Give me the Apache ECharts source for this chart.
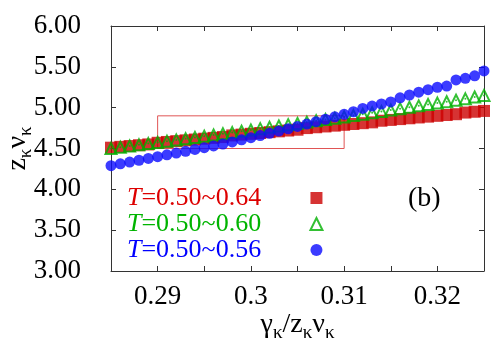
<!DOCTYPE html>
<html>
<head>
<meta charset="utf-8">
<script src="https://cdn.jsdelivr.net/npm/echarts@6/dist/echarts.min.js"></script>
<style>html,body{margin:0;padding:0;background:#fff}#chart{width:500px;height:350px}</style>
</head>
<body>
<div id="chart"></div>
<script>
(function () {
var serif = 'Liberation Serif';

// x = gamma/(z nu), 0.001 step
var xVals = [0.285, 0.286, 0.287, 0.288, 0.289, 0.290, 0.291, 0.292, 0.293, 0.294,
  0.295, 0.296, 0.297, 0.298, 0.299, 0.300, 0.301, 0.302, 0.303, 0.304,
  0.305, 0.306, 0.307, 0.308, 0.309, 0.310, 0.311, 0.312, 0.313, 0.314,
  0.315, 0.316, 0.317, 0.318, 0.319, 0.320, 0.321, 0.322, 0.323, 0.324, 0.325];
// T=0.50~0.64
var redVals = [4.51, 4.52, 4.53, 4.54, 4.55, 4.57, 4.58, 4.59, 4.60, 4.61,
  4.62, 4.63, 4.64, 4.66, 4.67, 4.68, 4.69, 4.70, 4.71, 4.72,
  4.73, 4.75, 4.76, 4.77, 4.78, 4.79, 4.80, 4.81, 4.82, 4.84,
  4.85, 4.86, 4.87, 4.88, 4.89, 4.90, 4.91, 4.92, 4.94, 4.95, 4.96];
// T=0.50~0.60
var greenVals = [4.50, 4.515, 4.53, 4.545, 4.56, 4.575, 4.59, 4.605, 4.62, 4.635,
  4.65, 4.665, 4.68, 4.695, 4.711, 4.727, 4.743, 4.759, 4.775, 4.791,
  4.807, 4.823, 4.839, 4.855, 4.871, 4.887, 4.903, 4.92, 4.937, 4.954,
  4.971, 4.988, 5.005, 5.022, 5.039, 5.056, 5.073, 5.09, 5.108, 5.13, 5.15];
// T=0.50~0.56
var blueVals = [4.29, 4.312, 4.334, 4.356, 4.378, 4.40, 4.422, 4.444, 4.466, 4.488,
  4.51, 4.532, 4.555, 4.58, 4.606, 4.632, 4.659, 4.686, 4.714, 4.742,
  4.77, 4.799, 4.828, 4.858, 4.888, 4.918, 4.95, 4.99, 5.02, 5.045,
  5.07, 5.12, 5.155, 5.19, 5.22, 5.25, 5.265, 5.34, 5.36, 5.39, 5.45];

var seriesNames = ['T=0.50~0.64', 'T=0.50~0.60', 'T=0.50~0.56'];
var colors = ['#cc0000', '#00b000', '#0a0aff'];
var textColors = ['#dd0000', '#00b400', '#0000ff'];
// x0, x1, y0, y1 of the red frame
var insetBox = [0.29, 0.31, 4.5, 4.9];

function pairs(ys) {
  return xVals.map(function (x, i) { return [x, ys[i]]; });
}

var myChart = echarts.init(document.getElementById('chart'));

var axisLine = { show: true, lineStyle: { color: '#333', width: 1 } };
var tick = { show: true, inside: true, length: 5, lineStyle: { color: '#333' } };
var subRich = {
  m: { fontFamily: serif, fontSize: 28, color: '#000' },
  s: { fontFamily: serif, fontSize: 19, color: '#000', verticalAlign: 'bottom', padding: [17, 0, 0, 0] }
};

option = {
  animation: false,
  grid: { left: 111, right: 16, top: 26, bottom: 79, outerBoundsMode: 'none', containLabel: false },
  legend: {
    left: 122,
    top: 180,
    orient: 'vertical',
    align: 'right',
    itemGap: 0,
    itemWidth: 12,
    itemHeight: 12,
    selectedMode: false,
    data: seriesNames.map(function (n, i) {
      return { name: n, textStyle: { color: textColors[i] } };
    }),
    formatter: function (name) {
      return '{t|T}{r|' + name.slice(1) + '}';
    },
    textStyle: {
      fontFamily: serif,
      fontSize: 26,
      lineHeight: 26,
      rich: {
        t: { fontFamily: serif, fontSize: 26, fontStyle: 'italic', lineHeight: 26, align: 'left' },
        r: { fontFamily: serif, fontSize: 26, width: 164, lineHeight: 26, align: 'left' }
      }
    }
  },
  graphic: [{
    type: 'text', left: 408, top: 185,
    style: { text: '(b)', fontFamily: serif, fontSize: 28, fill: '#000' }
  }],
  xAxis: [{
    type: 'value',
    min: 0.285, max: 0.325, interval: 0.005,
    axisLine: axisLine, axisTick: tick, splitLine: { show: false },
    axisLabel: {
      margin: 12, color: '#000', fontFamily: serif, fontSize: 27,
      formatter: function (v) {
        return Math.round(v * 1000) % 10 === 0 ? String(+v.toFixed(3)) : '';
      }
    },
    name: '{m|γ}{s|κ}{m|/z}{s|κ}{m|ν}{s|κ}',
    nameLocation: 'middle',
    nameMoveOverlap: false,
    nameGap: 36,
    nameTextStyle: { rich: subRich }
  }, {
    type: 'value', position: 'top',
    min: 0.285, max: 0.325, interval: 0.005,
    axisLine: axisLine, axisTick: tick, axisLabel: { show: false }, splitLine: { show: false }
  }],
  yAxis: [{
    type: 'value',
    min: 3, max: 6, interval: 0.5,
    axisLine: axisLine, axisTick: tick, splitLine: { show: false },
    axisLabel: {
      margin: 30, color: '#000', fontFamily: serif, fontSize: 27,
      formatter: function (v) { return v.toFixed(2); }
    },
    name: '{m|z}{s|κ}{m|ν}{s|κ}',
    nameLocation: 'middle',
    nameRotate: 90,
    nameMoveOverlap: false,
    nameGap: 75,
    nameTextStyle: { rich: subRich }
  }, {
    type: 'value', position: 'right',
    min: 3, max: 6, interval: 0.5,
    axisLine: axisLine, axisTick: tick, axisLabel: { show: false }, splitLine: { show: false }
  }],
  series: [{
    name: seriesNames[0],
    type: 'scatter',
    clip: false,
    symbol: 'rect',
    symbolSize: 12,
    itemStyle: { color: colors[0] },
    data: pairs(redVals),
    markArea: {
      silent: true,
      itemStyle: { color: 'rgba(0,0,0,0)', borderColor: '#e05555', borderWidth: 1 },
      data: [[{ coord: [insetBox[0], insetBox[3]] }, { coord: [insetBox[1], insetBox[2]] }]]
    }
  }, {
    name: seriesNames[1],
    type: 'scatter',
    clip: false,
    symbol: 'triangle',
    symbolSize: 11,
    itemStyle: { color: 'rgba(0,0,0,0)', borderColor: colors[1], borderWidth: 2 },
    data: pairs(greenVals)
  }, {
    name: 'dots',
    type: 'scatter',
    clip: false,
    symbol: 'circle',
    symbolSize: 2,
    itemStyle: { color: colors[1] },
    data: pairs(greenVals)
  }, {
    name: seriesNames[2],
    type: 'scatter',
    clip: false,
    symbol: 'circle',
    symbolSize: 11,
    itemStyle: { color: colors[2] },
    data: pairs(blueVals)
  }]
};

myChart.setOption(option);

window.addEventListener('resize', function () {
  myChart.resize();
});
})();
</script>
</body>
</html>
